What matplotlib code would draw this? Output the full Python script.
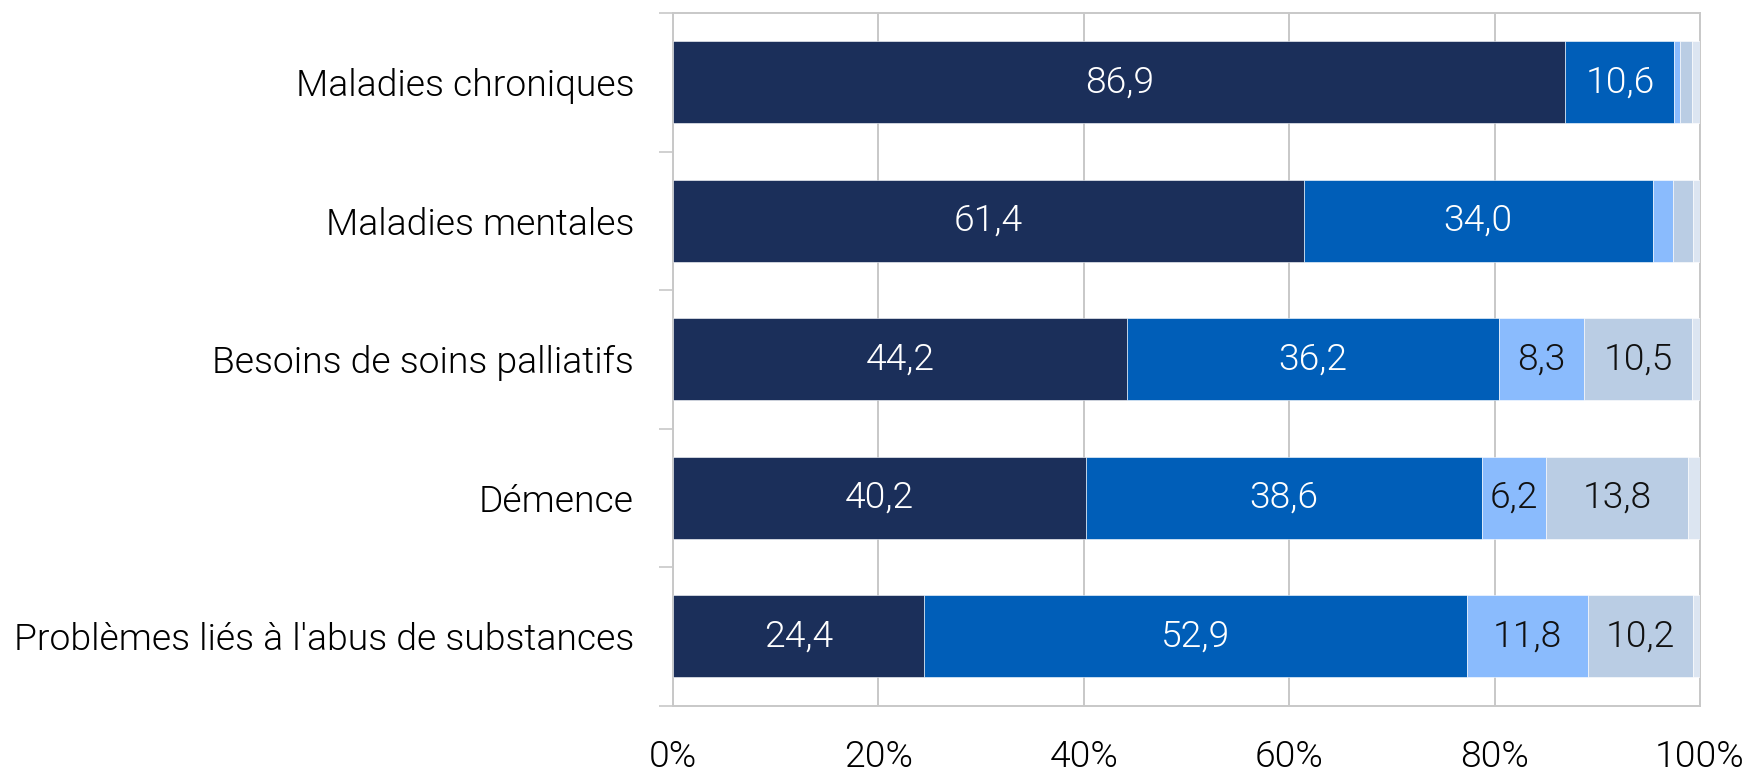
import numpy as np
import matplotlib
matplotlib.use("Agg")
import matplotlib.pyplot as plt

categories = ["Maladies chroniques", "Maladies mentales", "Besoins de soins palliatifs",
              "Démence", "Problèmes liés à l'abus de substances"]
s1 = [86.9, 61.4, 44.2, 40.2, 24.4]
s2 = [10.6, 34.0, 36.2, 38.6, 52.9]
s3 = [0.6, 2.0, 8.3, 6.2, 11.8]
s4 = [1.1, 1.9, 10.5, 13.8, 10.2]
s5 = [0.8, 0.7, 0.8, 1.2, 0.7]
xticks = [0, 20, 40, 60, 80, 100]
xticklabels = ["0%", "20%", "40%", "60%", "80%", "100%"]

series = [s1, s2, s3, s4, s5]
colors = ["#1B2F5A", "#005EB8", "#8ABBFD", "#BACDE4", "#DCE5F1"]
txtcol = ["white", "white", "#111111", "#111111", "#111111"]

plt.rcParams["font.family"] = ["Roboto", "DejaVu Sans"]
FW = 300
FS = 26.8

fig = plt.figure(figsize=(17.5, 7.74), dpi=100)
ax = fig.add_axes([673 / 1750, 1 - 705.5 / 774, (1700 - 673) / 1750, (705.5 - 13) / 774])

y = np.arange(len(categories))
left = np.zeros(len(categories))
for k, vals in enumerate(series):
    vals = np.array(vals)
    ax.barh(y, vals, left=left, height=0.59, color=colors[k], edgecolor="white",
            linewidth=0.4, zorder=3)
    # value labels only where the segment is wide enough
    for i, v in enumerate(vals):
        if v >= 5:
            ax.text(left[i] + v / 2, y[i], f"{v:.1f}".replace(".", ","), ha="center",
                    va="center", color=txtcol[k], fontsize=FS, fontweight=FW, zorder=4)
    left += vals

ax.set_xlim(0, 100)
ax.set_ylim(4.5, -0.5)
ax.set_xticks(xticks)
ax.set_xticklabels(xticklabels, fontsize=FS, fontweight=FW)
ax.set_yticks(y)
ax.set_yticklabels(categories, fontsize=FS, fontweight=FW)
ax.set_yticks(np.arange(-0.5, 5, 1), minor=True)
ax.tick_params(axis="x", length=0, pad=24)
ax.tick_params(axis="y", which="major", length=0, pad=28)
ax.tick_params(axis="y", which="minor", length=10, width=1.2, color="#c8c8c8")
ax.grid(axis="x", color="#c8c8c8", linewidth=1.4, zorder=0)
for sp in ax.spines.values():
    sp.set_color("#c8c8c8")
    sp.set_linewidth(1.4)

fig.savefig("out.png", dpi=100)
